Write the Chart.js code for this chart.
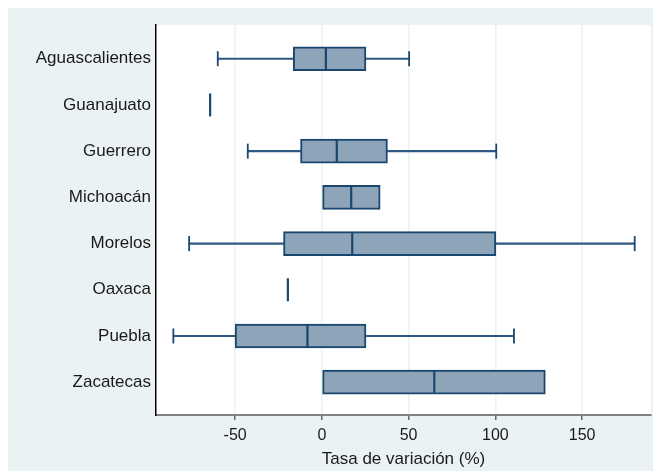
<!DOCTYPE html>
<html>
<head>
<meta charset="utf-8">
<script src="https://cdn.jsdelivr.net/npm/chart.js@4.4.1/dist/chart.umd.min.js"></script>
<style>
  html, body { margin: 0; padding: 0; background: #ffffff; }
  #wrap { width: 654px; height: 471px; }
</style>
</head>
<body>
<div id="wrap"><canvas id="boxChart" width="654" height="471"></canvas></div>
<script>
// ====== Datos ======
const estados = ["Aguascalientes", "Guanajuato", "Guerrero", "Michoacán", "Morelos", "Oaxaca", "Puebla", "Zacatecas"];
const minimo  = [-60.0, -64.4, -42.7,  0.0, -76.5, -19.6, -85.6,   0.0];
const q1      = [-16.5, -64.4, -12.3,  0.0, -22.1, -19.6, -50.0,   0.0];
const mediana = [  2.3, -64.4,   8.6, 16.9,  17.5, -19.6,  -8.3,  64.8];
const q3      = [ 25.4, -64.4,  37.8, 33.6, 100.3, -19.6,  25.4, 128.8];
const maximo  = [ 50.3, -64.4, 100.5, 33.6, 180.3, -19.6, 110.7, 128.8];
const xTicks  = [-50, 0, 50, 100, 150];

const NAVY = "#1a476f";
const FILL = "#8ea4b8";
const BG = "#eaf2f3";
const FONT = "'Liberation Sans', Arial, sans-serif";

// fondo estilo Stata
const fondoPlugin = {
  id: "fondo",
  beforeDraw(chart) {
    const { ctx, chartArea } = chart;
    ctx.save();
    ctx.fillStyle = "#ffffff";
    ctx.fillRect(0, 0, chart.width, chart.height);
    ctx.fillStyle = BG;
    ctx.fillRect(8, 8, chart.width - 9, chart.height - 8);
    ctx.fillStyle = "#ffffff";
    ctx.fillRect(chartArea.left, chartArea.top, chartArea.right - chartArea.left, chartArea.bottom - chartArea.top);
    ctx.restore();
  }
};

const idx = estados.map((_, i) => i);
const bigotes = [];
const topes = [];
idx.forEach(i => {
  if (minimo[i] < q1[i]) {
    bigotes.push({ x: [minimo[i], q1[i]], y: i });
    topes.push({ x: minimo[i], y: i });
  }
  if (maximo[i] > q3[i]) {
    bigotes.push({ x: [q3[i], maximo[i]], y: i });
    topes.push({ x: maximo[i], y: i });
  }
});
const cajas = idx.map(i => ({ x: [q1[i], q3[i]], y: i }));
const medianas = idx.map(i => ({ x: mediana[i], y: i }));

new Chart(document.getElementById("boxChart"), {
  type: "bar",
  data: {
    datasets: [
      {
        type: "scatter",
        data: medianas,
        pointStyle: "line",
        rotation: 90,
        pointRadius: 11.5,
        borderColor: NAVY,
        borderWidth: 2.2,
        order: 0
      },
      {
        type: "scatter",
        data: topes,
        pointStyle: "line",
        rotation: 90,
        pointRadius: 7.5,
        borderColor: NAVY,
        borderWidth: 1.8,
        order: 1
      },
      {
        data: cajas,
        backgroundColor: FILL,
        borderColor: NAVY,
        borderWidth: 2,
        borderSkipped: false,
        barThickness: 24,
        grouped: false,
        order: 2
      },
      {
        data: bigotes,
        backgroundColor: "#2c5882",
        borderWidth: 0,
        barThickness: 1.5,
        grouped: false,
        order: 3
      }
    ]
  },
  options: {
    indexAxis: "y",
    responsive: false,
    animation: false,
    layout: { autoPadding: false, padding: { top: 25, right: 3, left: 0, bottom: 0 } },
    plugins: { legend: { display: false }, tooltip: { enabled: false } },
    scales: {
      x: {
        type: "linear",
        min: -95.6,
        max: 189.7,
        afterBuildTicks(axis) { axis.ticks = xTicks.map(v => ({ value: v })); },
        afterFit(axis) { axis.height = 56; axis.paddingLeft = 0; axis.paddingRight = 0; },
        grid: { color: BG, lineWidth: 1.5, drawTicks: true, tickLength: 5, tickColor: "#666666" },
        border: { color: "#808080", width: 2 },
        ticks: { color: "#1a1a1a", padding: 6, font: { family: FONT, size: 16 } },
        title: {
          display: true,
          text: "Tasa de variación (%)",
          color: "#1a1a1a",
          font: { family: FONT, size: 17 },
          padding: { top: 0, bottom: 1 }
        }
      },
      y: {
        type: "linear",
        reverse: true,
        offset: false,
        min: -0.73,
        max: 7.71,
        afterBuildTicks(axis) { axis.ticks = idx.map(v => ({ value: v })); },
        afterFit(axis) { axis.width = 156; },
        grid: { display: false, drawTicks: false, offset: false },
        border: { color: "#000000", width: 1.5 },
        ticks: {
          color: "#1a1a1a",
          padding: 5,
          font: { family: FONT, size: 17 },
          callback: v => estados[v]
        }
      }
    }
  },
  plugins: [fondoPlugin]
});
</script>
</body>
</html>
